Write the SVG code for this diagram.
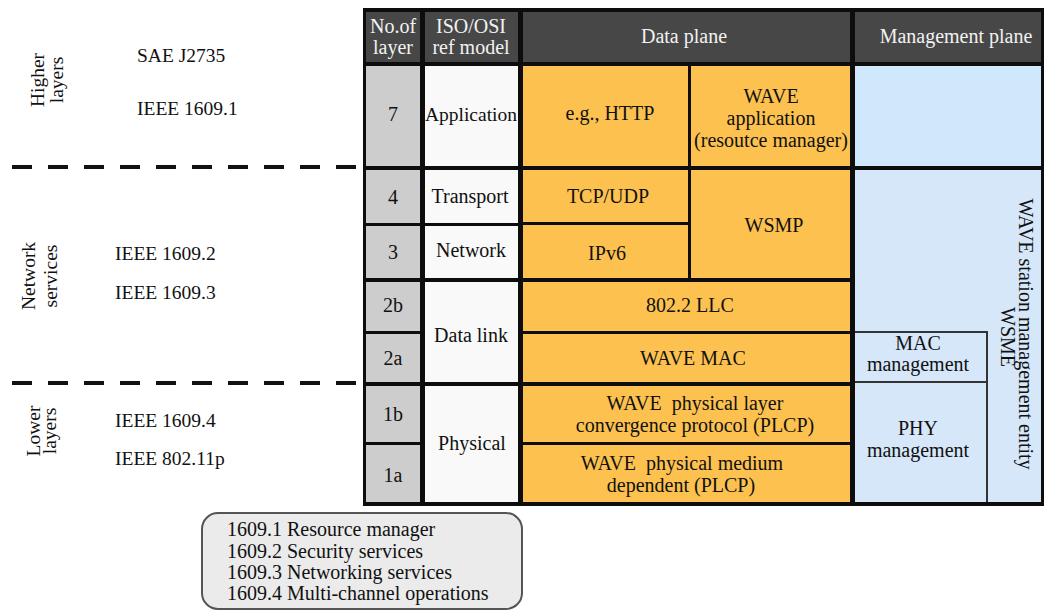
<svg xmlns="http://www.w3.org/2000/svg" width="1046" height="612" viewBox="0 0 1046 612" font-family="Liberation Serif, serif">
<style>
text{font-family:'Liberation Serif',serif;font-size:20px;fill:#111}
.c{text-anchor:middle}
.h{fill:#474747}
.hd{fill:#f2f2f2;text-anchor:middle}
.n{fill:#cdcdcd}
.w{fill:#f9f9f9}
.o{fill:#fcc14f}
.b1{fill:#cfe8fb}
.b2{fill:#d5e7f8}
.sep{stroke:#111;stroke-width:4;stroke-dasharray:20 16;fill:none}
.ln{stroke:#333;stroke-width:2;fill:none}
.lt{font-size:19.5px}
</style>
<rect width="1046" height="612" fill="#ffffff"/>
<g id="separators">
<line class="sep" x1="12" y1="167" x2="363" y2="167"/>
<line class="sep" x1="12" y1="383" x2="363" y2="383"/>
</g>
<g id="left-labels">
<text class="c lt" transform="translate(44,80) rotate(-90)">Higher</text>
<text class="c lt" transform="translate(63,80) rotate(-90)">layers</text>
<text class="c lt" transform="translate(35,276) rotate(-90)">Network</text>
<text class="c lt" transform="translate(57,276) rotate(-90)">services</text>
<text class="c lt" transform="translate(40,431) rotate(-90)">Lower</text>
<text class="c lt" transform="translate(56,431) rotate(-90)">layers</text>
<text class="lt" x="137" y="62">SAE J2735</text>
<text class="lt" x="137" y="115">IEEE 1609.1</text>
<text class="lt" x="115" y="260">IEEE 1609.2</text>
<text class="lt" x="115" y="299">IEEE 1609.3</text>
<text class="lt" x="115" y="427">IEEE 1609.4</text>
<text class="lt" x="115" y="465">IEEE 802.11p</text>
</g>
<g id="table-frame">
<rect x="363" y="8" width="681" height="498" fill="#0d0d0d"/>
</g>
<g id="headers">
<rect class="h" x="366" y="12" width="54" height="50"/>
<text class="hd" x="393" y="33">No.of</text>
<text class="hd" x="393" y="54">layer</text>
<rect class="h" x="425" y="12" width="93" height="50"/>
<text class="hd" x="471" y="33">ISO/OSI</text>
<text class="hd" x="471" y="54">ref model</text>
<rect class="h" x="523" y="12" width="327" height="50"/>
<text class="hd" x="684" y="43">Data plane</text>
<rect class="h" x="855" y="12" width="186" height="50"/>
<text class="hd" x="956" y="43">Management plane</text>
</g>
<g id="layer-numbers">
<rect class="n" x="366" y="66" width="54" height="100"/><text class="c" x="393" y="121">7</text>
<rect class="n" x="366" y="170" width="54" height="53"/><text class="c" x="393" y="204">4</text>
<rect class="n" x="366" y="226" width="54" height="52"/><text class="c" x="393" y="259">3</text>
<rect class="n" x="366" y="282" width="54" height="49"/><text class="c" x="393" y="312">2b</text>
<rect class="n" x="366" y="334" width="54" height="48"/><text class="c" x="393" y="365">2a</text>
<rect class="n" x="366" y="386" width="54" height="56"/><text class="c" x="393" y="421">1b</text>
<rect class="n" x="366" y="445" width="54" height="57"/><text class="c" x="393" y="482">1a</text>
</g>
<g id="osi-model">
<rect class="w" x="425" y="66" width="93" height="100"/><text class="c lt" x="471" y="121">Application</text>
<rect class="w" x="425" y="170" width="93" height="53"/><text class="c" x="470" y="203">Transport</text>
<rect class="w" x="425" y="226" width="93" height="52"/><text class="c" x="471" y="257">Network</text>
<rect class="w" x="425" y="282" width="93" height="100"/><text class="c" x="471" y="342">Data link</text>
<rect class="w" x="425" y="386" width="93" height="116"/><text class="c" x="472" y="450">Physical</text>
</g>
<g id="http">
<rect class="o" x="523" y="66" width="165" height="100"/>
<text class="c" x="610" y="120">e.g., HTTP</text>
</g>
<g id="wave-application">
<rect class="o" x="691" y="66" width="159" height="100"/>
<text class="c" x="771" y="103">WAVE</text>
<text class="c" x="771" y="125">application</text>
<text class="c" x="771" y="147">(resoutce manager)</text>
</g>
<g id="tcp-udp">
<rect class="o" x="523" y="170" width="165" height="52"/>
<text class="c" x="608" y="203">TCP/UDP</text>
</g>
<g id="ipv6">
<rect class="o" x="523" y="225" width="165" height="53"/>
<text class="c" x="607" y="260">IPv6</text>
</g>
<g id="wsmp">
<rect class="o" x="691" y="170" width="159" height="108"/>
<text class="c" x="774" y="232">WSMP</text>
</g>
<g id="llc">
<rect class="o" x="523" y="282" width="327" height="49"/>
<text class="c" x="690" y="312">802.2 LLC</text>
</g>
<g id="wave-mac">
<rect class="o" x="523" y="334" width="327" height="48"/>
<text class="c" x="693" y="365">WAVE MAC</text>
</g>
<g id="plcp">
<rect class="o" x="523" y="386" width="327" height="56"/>
<text class="c" x="695" y="410">WAVE&#160; physical layer</text>
<text class="c" x="695" y="432">convergence protocol (PLCP)</text>
</g>
<g id="pmd">
<rect class="o" x="523" y="445" width="327" height="57"/>
<text class="c" x="682" y="470">WAVE&#160; physical medium</text>
<text class="c" x="681" y="492">dependent (PLCP)</text>
</g>
<g id="mgmt-app">
<rect class="b1" x="855" y="66" width="186" height="100"/>
</g>
<g id="wsme">
<rect class="b2" x="855" y="170" width="186" height="332"/>
<text class="c" transform="translate(1019,334) rotate(90)">WAVE station management entity</text>
<text class="c" transform="translate(1001,337) rotate(90)">WSME</text>
</g>
<g id="mac-management">
<path class="ln" d="M855,332 H987 V382 H855"/>
<text class="c" x="918" y="350">MAC</text>
<text class="c" x="918" y="371">management</text>
</g>
<g id="phy-management">
<path class="ln" d="M987,382 V502"/>
<text class="c" x="918" y="435">PHY</text>
<text class="c" x="918" y="457">management</text>
</g>
<g id="legend">
<rect x="202" y="513" width="320" height="96" rx="16" ry="16" fill="#ebebeb" stroke="#555" stroke-width="2"/>
<text x="227" y="536">1609.1 Resource manager</text>
<text x="227" y="558">1609.2 Security services</text>
<text x="227" y="579">1609.3 Networking services</text>
<text x="227" y="600">1609.4 Multi-channel operations</text>
</g>
</svg>
